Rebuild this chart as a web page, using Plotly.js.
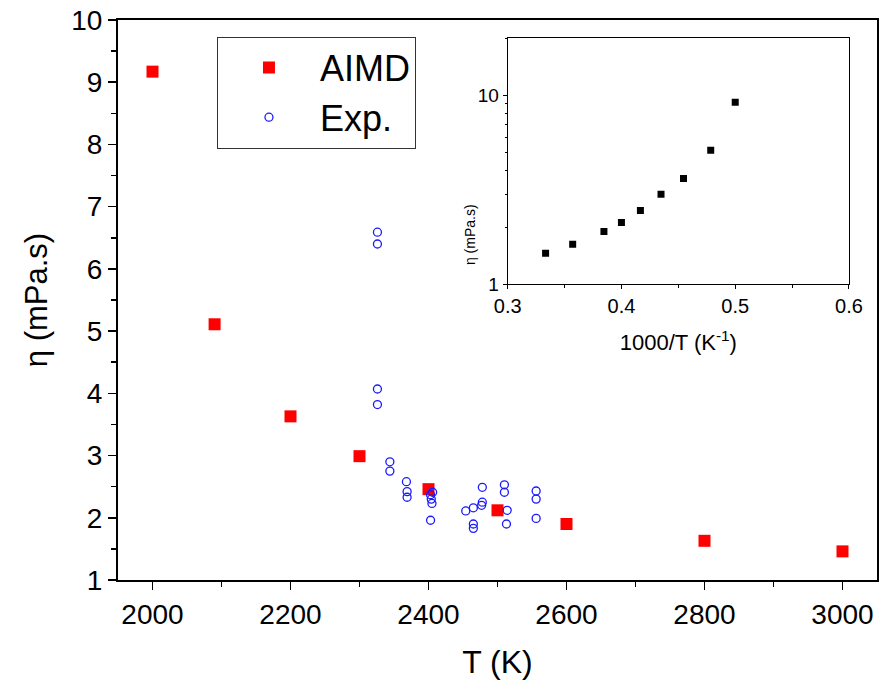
<!DOCTYPE html>
<html>
<head>
<meta charset="utf-8">
<script src="https://cdn.plot.ly/plotly-3.0.1.min.js"></script>
<style>
  html, body { margin: 0; padding: 0; background: #ffffff; }
  #chart { width: 894px; height: 686px; }
</style>
</head>
<body>
<div id="chart"></div>
<script>
// AIMD simulation results
const aimdT   = [2000, 2090, 2200, 2300, 2400, 2500, 2600, 2800, 3000];
const aimdEta = [9.17, 5.11, 3.63, 2.99, 2.46, 2.12, 1.90, 1.63, 1.46];

// Experimental data
const expT   = [2326, 2326, 2326, 2326, 2344, 2344, 2368, 2369, 2369,
                2406, 2403, 2404, 2405, 2403, 2454, 2465, 2477, 2478,
                2478, 2465, 2465, 2510, 2510, 2514, 2513, 2556, 2556, 2556];
const expEta = [6.59, 6.40, 4.07, 3.82, 2.90, 2.75, 2.58, 2.42, 2.33,
                2.41, 2.37, 2.30, 2.23, 1.96, 2.11, 2.16, 2.20, 2.25,
                2.49, 1.90, 1.83, 2.53, 2.41, 2.12, 1.90, 2.43, 2.30, 1.99];

// Inset: Arrhenius-type plot, 1000/T
const invT = aimdT.map(t => 1000 / t);

const font = "Liberation Sans, Arial, sans-serif";

const traces = [
  {
    x: aimdT, y: aimdEta, type: 'scatter', mode: 'markers', name: 'AIMD',
    marker: { symbol: 'square', size: 12, color: '#ff0000' },
    xaxis: 'x', yaxis: 'y'
  },
  {
    x: expT, y: expEta, type: 'scatter', mode: 'markers', name: 'Exp.',
    marker: { symbol: 'circle-open', size: 8, color: '#1a1aff', line: { width: 1.3, color: '#1a1aff' } },
    xaxis: 'x', yaxis: 'y'
  },
  {
    x: invT, y: aimdEta, type: 'scatter', mode: 'markers', name: 'inset',
    showlegend: false,
    marker: { symbol: 'square', size: 7, color: '#000000' },
    xaxis: 'x2', yaxis: 'y2'
  }
];

const layout = {
  width: 894, height: 686,
  margin: { l: 118, r: 17, t: 20, b: 106 },
  paper_bgcolor: '#ffffff', plot_bgcolor: '#ffffff',
  font: { family: font, color: '#000000' },
  showlegend: true,
  legend: {
    x: 0.1304, y: 0.9705, xanchor: 'left', yanchor: 'top',
    bordercolor: '#333333', borderwidth: 1, bgcolor: 'rgba(255,255,255,0)',
    font: { size: 36, family: font, color: '#000000' },
    itemwidth: 92, tracegroupgap: 0
  },
  xaxis: {
    domain: [0, 1], range: [1950, 3050],
    tickmode: 'linear', tick0: 2000, dtick: 200,
    ticks: 'outside', ticklen: 8, tickwidth: 1.5, tickcolor: '#000',
    minor: { dtick: 100, tick0: 2000, ticks: 'outside', ticklen: 5, tickwidth: 1.5, tickcolor: '#000', showgrid: false },
    showline: true, linewidth: 2, linecolor: '#000', mirror: true,
    showgrid: false, zeroline: false,
    tickfont: { size: 28, family: font },
    title: { text: 'T (K)', font: { size: 32, family: font }, standoff: 22 }
  },
  yaxis: {
    domain: [0, 1], range: [1, 10],
    tickmode: 'linear', tick0: 1, dtick: 1,
    ticks: 'outside', ticklen: 8, tickwidth: 1.5, tickcolor: '#000',
    minor: { dtick: 0.5, tick0: 1, ticks: 'outside', ticklen: 5, tickwidth: 1.5, tickcolor: '#000', showgrid: false },
    showline: true, linewidth: 2, linecolor: '#000', mirror: true,
    showgrid: false, zeroline: false,
    tickfont: { size: 28, family: font },
    title: { text: 'η (mPa.s)', font: { size: 31, family: font }, standoff: 14 }
  },
  xaxis2: {
    domain: [0.5134, 0.9631], anchor: 'y2', range: [0.3, 0.6],
    tickmode: 'linear', tick0: 0.3, dtick: 0.1, tickformat: '.1f',
    ticks: 'outside', ticklen: 4, tickwidth: 1, tickcolor: '#000',
    minor: { dtick: 0.05, tick0: 0.3, ticks: 'outside', ticklen: 3, tickwidth: 1, tickcolor: '#000', showgrid: false },
    showline: true, linewidth: 1, linecolor: '#000', mirror: true,
    showgrid: false, zeroline: false,
    tickfont: { size: 20, family: font },
    title: { text: '1000/T (K<sup>-1</sup>)', font: { size: 22, family: font }, standoff: 18 }
  },
  yaxis2: {
    domain: [0.528, 0.9673], anchor: 'x2', type: 'log', range: [0, Math.log10(20)],
    dtick: 1,
    ticks: 'outside', ticklen: 4, tickwidth: 1, tickcolor: '#000',
    minor: { ticks: 'outside', ticklen: 2, tickwidth: 1, tickcolor: '#000', showgrid: false },
    showline: true, linewidth: 1, linecolor: '#000', mirror: true,
    showgrid: false, zeroline: false,
    tickfont: { size: 19, family: font }
  },
  annotations: [
    {
      text: 'η (mPa.s)', xref: 'paper', yref: 'paper', x: 0.4638, y: 0.616,
      xanchor: 'center', yanchor: 'middle', textangle: -90, showarrow: false,
      font: { size: 14, family: font, color: '#000' }
    }
  ]
};

Plotly.newPlot('chart', traces, layout, { displayModeBar: false, staticPlot: true });
</script>
</body>
</html>
